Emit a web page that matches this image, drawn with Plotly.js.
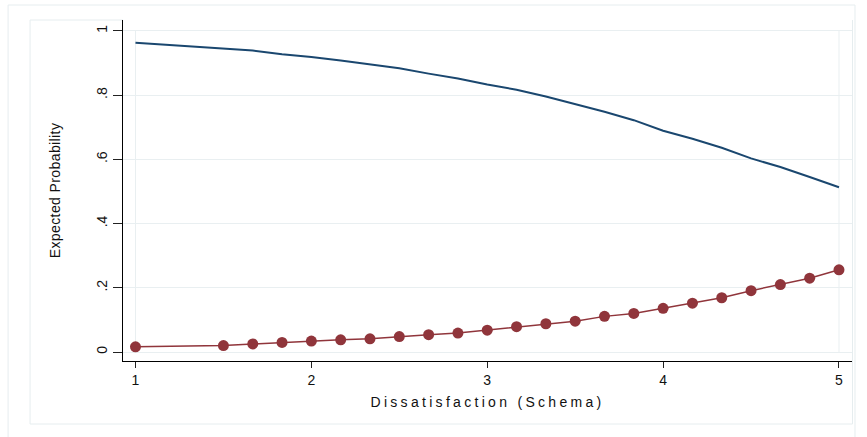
<!DOCTYPE html>
<html>
<head>
<meta charset="utf-8">
<script src="https://cdn.plot.ly/plotly-3.0.1.min.js"></script>
<style>
  html, body { margin: 0; padding: 0; background: #ffffff; }
  #chart { width: 867px; height: 437px; }
  .g-xtitle text { letter-spacing: 3.3px; }
  .g-ytitle text { letter-spacing: 0.4px; }
</style>
</head>
<body>
<div id="chart"></div>
<script>
// ---- data ----
var dissatisfaction = [1, 1.5, 1.6667, 1.8333, 2, 2.1667, 2.3333, 2.5, 2.6667, 2.8333, 3,
                       3.1667, 3.3333, 3.5, 3.6667, 3.8333, 4, 4.1667, 4.3333, 4.5, 4.6667, 4.8333, 5];
var probOutcome0 = [0.963, 0.946, 0.939, 0.927, 0.919, 0.908, 0.895, 0.884, 0.867, 0.852, 0.833,
                    0.817, 0.796, 0.773, 0.748, 0.722, 0.689, 0.664, 0.636, 0.603, 0.576, 0.545, 0.513];
var probOutcome1 = [0.016, 0.020, 0.025, 0.030, 0.034, 0.038, 0.041, 0.048, 0.054, 0.059, 0.068,
                    0.079, 0.088, 0.096, 0.111, 0.120, 0.136, 0.152, 0.169, 0.191, 0.210, 0.230, 0.256];
var xTickVals = [1, 2, 3, 4, 5];
var xTickText = ["1", "2", "3", "4", "5"];
var yTickVals = [0, 0.2, 0.4, 0.6, 0.8, 1];
var yTickText = ["0", ".2", ".4", ".6", ".8", "1"];
var xTitle = "Dissatisfaction (Schema)";
var yTitle = "Expected Probability";

var navy = "#1a476f";
var maroon = "#90353b";
var grid = "#e9eff1";
var boxc = "#e6edef";
var font = "Liberation Sans, Arial, sans-serif";

var traces = [
  {
    x: dissatisfaction, y: probOutcome0, type: "scatter", mode: "lines",
    line: { color: navy, width: 2 }, hoverinfo: "skip"
  },
  {
    x: dissatisfaction, y: probOutcome1, type: "scatter", mode: "lines+markers",
    line: { color: maroon, width: 1.5 },
    marker: { color: maroon, size: 11 }, hoverinfo: "skip"
  }
];

// paper coordinate helpers (plot area: x 123..852.5 px, y 20..361 px)
function px(p) { return (p - 123) / 729.5; }
function py(p) { return (361 - p) / 341; }
function seg(x0, y0, x1, y1, c) {
  return { type: "line", xref: "paper", yref: "paper",
           x0: px(x0), y0: py(y0), x1: px(x1), y1: py(y1),
           line: { color: c, width: 1 }, layer: "below" };
}

var shapes = [
  // outer frame
  seg(8, 5, 8, 440, boxc), seg(8, 5, 855.5, 5, boxc), seg(855.5, 5, 855.5, 440, boxc),
  // graph region frame (visible parts)
  seg(30, 20, 123, 20, boxc), seg(30, 20, 30, 424, boxc),
  seg(30, 424, 853, 424, boxc), seg(853, 20, 853, 424, boxc),
  // plot region vertical edges at x = 1 and x = 5
  { type: "line", xref: "x", yref: "y", x0: 1, x1: 1, y0: 0, y1: 1,
    line: { color: grid, width: 1 }, layer: "below" },
  { type: "line", xref: "x", yref: "y", x0: 5, x1: 5, y0: 0, y1: 1,
    line: { color: grid, width: 1 }, layer: "below" }
];

var layout = {
  width: 867, height: 437,
  margin: { l: 123, r: 14.5, t: 20, b: 76, pad: 0 },
  paper_bgcolor: "#ffffff", plot_bgcolor: "#ffffff",
  showlegend: false,
  font: { family: font, size: 14, color: "#111111" },
  xaxis: {
    range: [0.929, 5.074], tickmode: "array", tickvals: xTickVals, ticktext: xTickText,
    ticks: "outside", ticklen: 6, tickcolor: "#222222", tickwidth: 1,
    showline: true, linecolor: "#000000", linewidth: 1, mirror: false,
    showgrid: false, zeroline: false,
    tickfont: { family: font, size: 14, color: "#111111" },
    title: { text: xTitle, standoff: 10, font: { family: font, size: 14, color: "#111111" } }
  },
  yaxis: {
    range: [-0.028, 1.034], tickmode: "array", tickvals: yTickVals, ticktext: yTickText,
    tickangle: -90,
    ticks: "outside", ticklen: 9, tickcolor: "#222222", tickwidth: 1,
    showline: true, linecolor: "#000000", linewidth: 1,
    showgrid: true, gridcolor: grid, gridwidth: 1, zeroline: false,
    tickfont: { family: font, size: 14, color: "#111111" },
    title: { text: yTitle, standoff: 30, font: { family: font, size: 14, color: "#111111" } }
  },
  shapes: shapes
};

Plotly.newPlot("chart", traces, layout, { staticPlot: true, displayModeBar: false });
</script>
</body>
</html>
